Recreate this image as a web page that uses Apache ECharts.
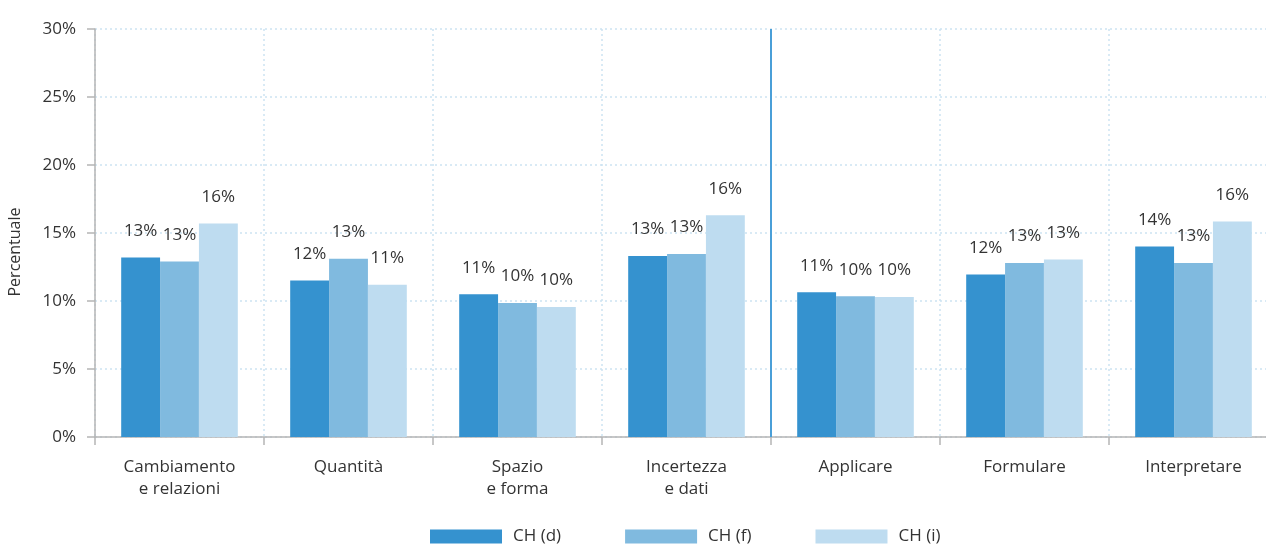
<!DOCTYPE html>
<html>
<head>
<meta charset="utf-8">
<script src="https://cdn.jsdelivr.net/npm/echarts@6/dist/echarts.min.js"></script>
<style>
  html, body { margin: 0; padding: 0; background: #fff; }
  #chart { width: 1266px; height: 545px; }
</style>
</head>
<body>
<div id="chart"></div>
<script>
var categories = ['Cambiamento\ne relazioni', 'Quantità', 'Spazio\ne forma', 'Incertezza\ne dati', 'Applicare', 'Formulare', 'Interpretare'];
var seriesNames = ['CH (d)', 'CH (f)', 'CH (i)'];
var valuesD = [13.2, 11.5, 10.5, 13.3, 10.65, 11.95, 14.0];
var valuesF = [12.9, 13.1, 9.85, 13.45, 10.35, 12.8, 12.8];
var valuesI = [15.7, 11.2, 9.55, 16.3, 10.3, 13.05, 15.85];
var yTicks = [0, 5, 10, 15, 20, 25, 30];
// confine between content areas and processes
var separatorAt = 4;

var colors = ['#3592cf', '#80badf', '#bedcf0'];
var textColor = '#333333';
var font = 'Open Sans';

var myChart = echarts.init(document.getElementById('chart'));

function barSeries(name, data, color) {
    return {
        name: name,
        type: 'bar',
        data: data,
        barGap: '0%',
        barCategoryGap: '31%',
        itemStyle: { color: color },
        label: {
            show: true,
            position: 'top',
            distance: 18,
            color: textColor,
            fontFamily: font,
            fontSize: 17,
            formatter: function (p) { return Math.round(p.value) + '%'; }
        }
    };
}

var option = {
    animation: false,
    textStyle: { fontFamily: font },
    grid: { left: 95, top: 29, width: 1183, bottom: 108, outerBoundsMode: 'none' },
    legend: {
        top: 523,
        left: 425,
        itemWidth: 72,
        itemHeight: 14,
        itemGap: 64,
        icon: 'rect',
        selectedMode: false,
        textStyle: { color: textColor, fontSize: 17, fontFamily: font, padding: [0, 0, 0, 6] },
        data: seriesNames
    },
    xAxis: [{
        type: 'category',
        data: categories,
        axisLine: { lineStyle: { color: '#b5b5b5', width: 1.5 } },
        axisTick: { show: true, length: 8, lineStyle: { color: '#b5b5b5', width: 1.5 } },
        axisLabel: { color: textColor, fontSize: 17, fontFamily: font, lineHeight: 22, margin: 19 },
        splitLine: { show: true, lineStyle: { color: '#cde3f2', type: [2, 3], width: 1.5 } }
    }, {
        type: 'value',
        min: 0,
        max: categories.length,
        show: false
    }],
    yAxis: {
        type: 'value',
        min: yTicks[0],
        max: yTicks[yTicks.length - 1],
        interval: yTicks[1] - yTicks[0],
        name: 'Percentuale',
        nameLocation: 'middle',
        nameGap: 72,
        nameTextStyle: { color: textColor, fontSize: 16, fontFamily: font, padding: [0, 0, 0, -38] },
        axisLine: { show: true, lineStyle: { color: '#b5b5b5', width: 1.5 } },
        axisTick: { show: true, length: 8, lineStyle: { color: '#b5b5b5', width: 1.5 } },
        axisLabel: { color: textColor, fontSize: 17, fontFamily: font, margin: 19, formatter: '{value}%' },
        splitLine: { show: true, lineStyle: { color: '#cde3f2', type: [2, 3], width: 1.5 } }
    },
    series: [
        barSeries(seriesNames[0], valuesD, colors[0]),
        barSeries(seriesNames[1], valuesF, colors[1]),
        barSeries(seriesNames[2], valuesI, colors[2]),
        {
            type: 'line',
            xAxisIndex: 1,
            data: [],
            silent: true,
            markLine: {
                symbol: ['none', 'none'],
                label: { show: false },
                lineStyle: { color: '#4a9fd8', type: 'solid', width: 2 },
                data: [{ xAxis: separatorAt }]
            }
        }
    ]
};

myChart.setOption(option);
</script>
</body>
</html>
